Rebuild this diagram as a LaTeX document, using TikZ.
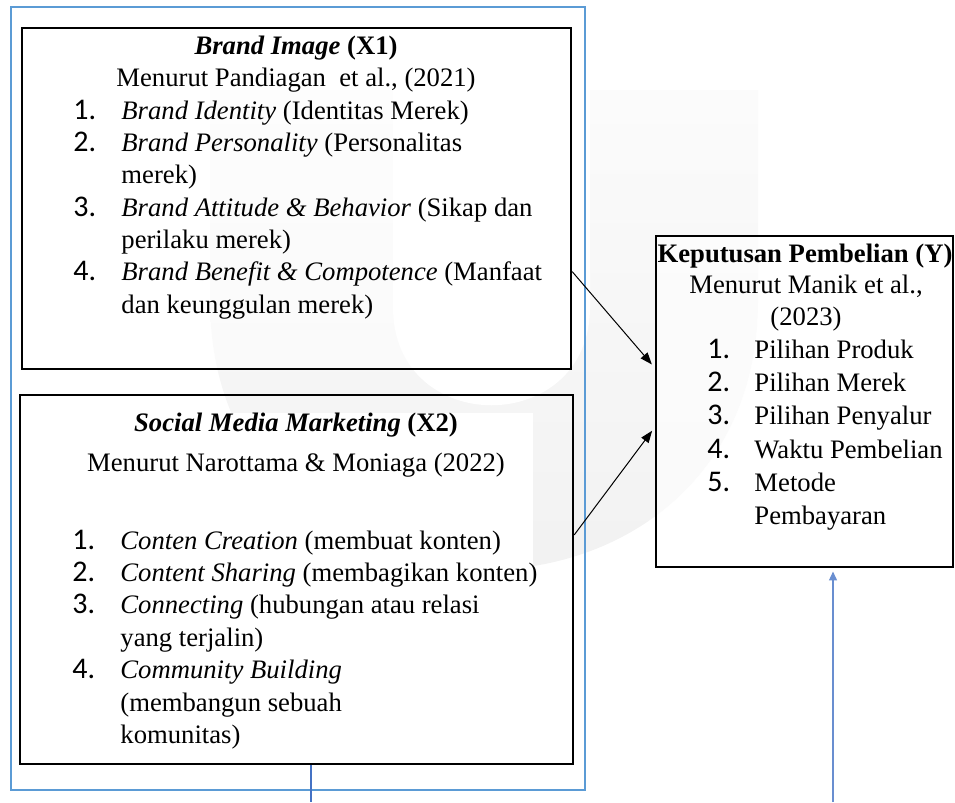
\documentclass[tikz,border=0pt]{standalone}
\usepackage{fontspec}
\setmainfont{Liberation Serif}
\newfontfamily\numfont{Carlito}
\newcommand{\nr}[1]{{\numfont\fontsize{13.5}{14}\selectfont #1}}
\definecolor{frameblue}{HTML}{5B9BD5}
\definecolor{lineblue}{HTML}{4472C4}
\tikzset{box/.style = {draw, line width=1.1pt, inner sep=0pt},
         frame/.style = {draw=frameblue, line width=1.1pt, inner sep=0pt},
         conn/.style = {-{Triangle[length=5.4pt,width=4pt]}, line width=0.45pt, shorten >=2pt},
         blueline/.style = {draw=lineblue, line width=0.9pt},
         bluearrow/.style = {-{Triangle[length=4pt,width=3.6pt]}, draw=lineblue!80, line width=0.6pt, shorten >=1.5pt},
         ttl/.style = {anchor=base, inner sep=0pt, font=\fontsize{12}{14}\selectfont},
         lst/.style = {anchor=base west, inner sep=0pt}}
\usetikzlibrary{arrows.meta,calc,fit}

\begin{document}
\begin{tikzpicture}[x=0.45pt,y=-0.45pt]
\useasboundingbox (0,0) rectangle (955,802);
% faint logo behind
\shade[top color=gray!3, bottom color=gray!12] (210,90) -- (210,300) .. controls (210,660) and (758,660) .. (758,300) -- (758,90) -- cycle;
\fill[white] (393,90) -- (393,307) .. controls (393,438) and (590,438) .. (590,307) -- (590,90) -- cycle;
\fill[white] (28,413) rectangle (533,758);

\node[frame, fit={(11,7) (585,790)}] (outer) {};
\node[box, fill=white, fill opacity=0.5, fit={(22,28) (571,369)}] (x1) {};
\node[box, fit={(20,395) (573,764)}] (x2) {};
\node[box, fill=white, fill opacity=0.6, fit={(656,236) (953,567)}] (ybox) {};

\node[ttl] (t1) at (296,54) {\textbf{\textit{Brand Image} (X1)}};
\node[ttl] (s1) at (296,86) {Menurut Pandiagan\ \ et al., (2021)};
\node[lst] (l1) at (73,119) {\fontsize{12}{14.55}\selectfont
  \begin{tabular}[t]{@{}p{21.6pt}@{}l@{}}
  \nr{1.} & \textit{Brand Identity} (Identitas Merek)\\
  \nr{2.} & \textit{Brand Personality} (Personalitas\\
   & merek)\\
  \nr{3.} & \textit{Brand Attitude \& Behavior} (Sikap dan\\
   & perilaku merek)\\
  \nr{4.} & \textit{Brand Benefit \& Compotence} (Manfaat\\
   & dan keunggulan merek)
  \end{tabular}};

\node[ttl] (t2) at (296,431) {\textbf{\textit{Social Media Marketing} (X2)}};
\node[ttl] (s2) at (296,471) {Menurut Narottama \& Moniaga (2022)};
\node[lst] (l2) at (72,549) {\fontsize{12}{14.6}\selectfont
  \begin{tabular}[t]{@{}p{21.6pt}@{}l@{}}
  \nr{1.} & \textit{Conten Creation} (membuat konten)\\
  \nr{2.} & \textit{Content Sharing} (membagikan konten)\\
  \nr{3.} & \textit{Connecting} (hubungan atau relasi\\
   & yang terjalin)\\
  \nr{4.} & \textit{Community Building}\\
   & (membangun sebuah\\
   & komunitas)
  \end{tabular}};

\node[ttl] (t3) at (805,262) {\textbf{Keputusan Pembelian (Y)}};
\node[ttl] (s3) at (806,293) {Menurut Manik et al.,};
\node[ttl] (s3b) at (806,325) {(2023)};
\node[lst] (l3) at (707,358) {\fontsize{12}{15}\selectfont
  \begin{tabular}[t]{@{}p{21.15pt}@{}l@{}}
  \nr{1.} & Pilihan Produk\\
  \nr{2.} & Pilihan Merek\\
  \nr{3.} & Pilihan Penyalur\\
  \nr{4.} & Waktu Pembelian\\
  \nr{5.} & Metode\\
   & Pembayaran
  \end{tabular}};

\draw[conn] ($(x1.north east)!0.713!(x1.south east)$) -- ($(ybox.north west)!0.399!(ybox.south west)$);
\draw[conn] ($(x2.north east)!0.38!(x2.south east)$) -- ($(ybox.north west)!0.577!(ybox.south west)$);

\coordinate (b1) at (311,802);
\coordinate (b2) at (833,802);
\draw[blueline] (x2.south -| b1) -- (b1);
\draw[bluearrow] (b2) -- (ybox.south -| b2);
\end{tikzpicture}
\end{document}
